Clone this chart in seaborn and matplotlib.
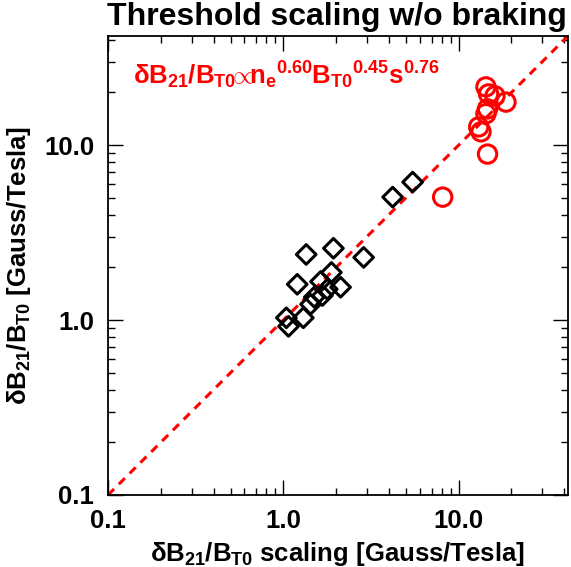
import numpy as np
import pandas as pd
import matplotlib
matplotlib.use("Agg")
import matplotlib.pyplot as plt
import seaborn as sns

# Data
diamond_x = [5.46, 4.20, 1.35, 1.93, 2.87, 1.20, 1.63, 1.88, 2.12, 1.50, 1.67, 1.43, 1.30, 1.04, 1.07, 1.78]
diamond_y = [6.14, 5.04, 2.37, 2.57, 2.28, 1.60, 1.66, 1.87, 1.54, 1.35, 1.38, 1.23, 1.03, 1.03, 0.92, 1.50]
circle_x = [14.3, 14.8, 16.1, 18.6, 14.6, 14.3, 13.0, 13.4, 14.6, 8.1]
circle_y = [21.5, 19.6, 19.1, 17.6, 16.1, 15.1, 12.7, 11.9, 8.88, 5.04]
line_x = [0.1, 60.0]
line_y = [0.1, 60.0]
tick_vals = [0.1, 1.0, 10.0]
tick_labels = ["0.1", "1.0", "10.0"]

sns.set_style("ticks")
plt.rcParams['font.family'] = ['Liberation Sans', 'DejaVu Sans']
plt.rcParams['font.weight'] = 'bold'
plt.rcParams['text.color'] = 'black'
plt.rcParams['axes.labelcolor'] = 'black'
plt.rcParams['xtick.color'] = 'black'
plt.rcParams['ytick.color'] = 'black'
plt.rcParams['mathtext.fontset'] = 'custom'
plt.rcParams['mathtext.rm'] = 'Liberation Sans:bold'
plt.rcParams['mathtext.it'] = 'Liberation Sans:bold'
plt.rcParams['mathtext.bf'] = 'Liberation Sans:bold'
plt.rcParams['mathtext.sf'] = 'Liberation Sans:bold'

fig = plt.figure(figsize=(5.71, 5.67), dpi=100)
ax = fig.add_axes([108/571, 1-495/567, 460/571, 459/567])

ax.set_xscale('log')
ax.set_yscale('log')

sns.lineplot(x=line_x, y=line_y, ax=ax, color='#ff0000', linewidth=2.2,
             dashes=False, legend=False)
ax.lines[-1].set_dashes((2.8, 2.2))
ax.lines[-1].set_dash_capstyle('butt')

sns.scatterplot(x=diamond_x, y=diamond_y, ax=ax, marker='D', s=100,
                facecolor='none', edgecolor='black', linewidth=2.2, zorder=3)
sns.scatterplot(x=circle_x, y=circle_y, ax=ax, marker='o', s=175,
                facecolor='none', edgecolor='#ff0000', linewidth=2.2, zorder=3)

ax.set_xlim(0.1, 42)
ax.set_ylim(0.1, 42)

ax.set_xticks(tick_vals)
ax.set_xticklabels(tick_labels)
ax.set_yticks(tick_vals)
ax.set_yticklabels(tick_labels)
ax.tick_params(which='both', direction='in', top=True, right=True, color='black')
ax.tick_params(which='major', length=11, width=1.0, labelsize=18.5, pad=10)
ax.tick_params(which='minor', length=5, width=1.0)
for lab in ax.get_xticklabels() + ax.get_yticklabels():
    lab.set_fontweight('bold')
for sp in ax.spines.values():
    sp.set_linewidth(1.3)
    sp.set_color('black')

ax.set_xlabel(r'$\delta B_{21}/B_{T0}$ scaling [Gauss/Tesla]', fontsize=18.5, fontweight='bold', labelpad=5)
ax.set_ylabel(r'$\delta B_{21}/B_{T0}$ [Gauss/Tesla]', fontsize=18.5, fontweight='bold', labelpad=8)

ax.text(0.055, 0.915, r'$\delta B_{21}/B_{T0}\!\!{\propto}\!\!n_{e}{}^{0.60}B_{T0}{}^{0.45}s^{0.76}$',
        transform=ax.transAxes, color='#ff0000', fontsize=18.5, fontweight='bold',
        ha='left', va='center')

fig.text(567/571, 1-2/567, 'Threshold scaling w/o braking', ha='right', va='top',
         fontsize=23, fontweight='bold')

fig.savefig('out.png', dpi=100)
